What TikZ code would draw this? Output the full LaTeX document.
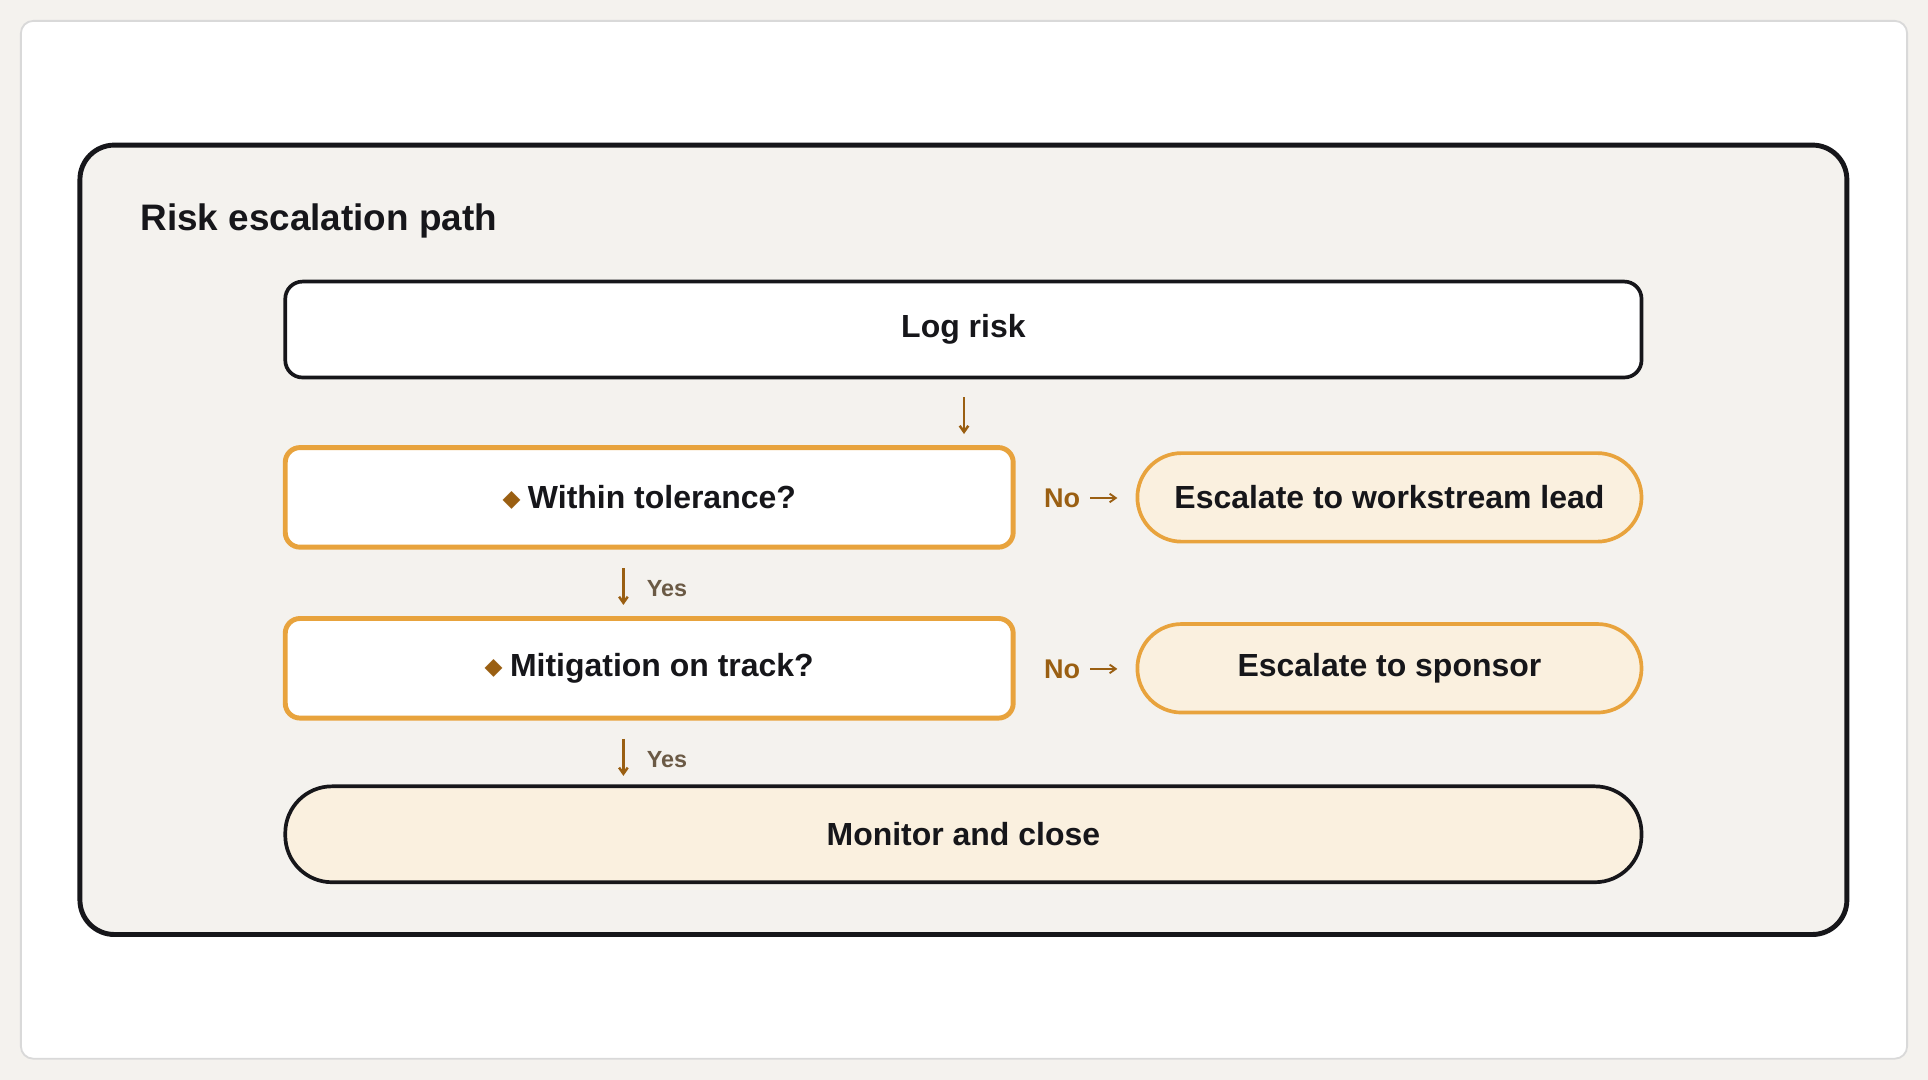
\documentclass[tikz,border=0pt]{standalone}
\usepackage{fontspec}
\setmainfont{Liberation Sans}
\newfontfamily\symfont{DejaVu Sans}
\usetikzlibrary{positioning,arrows.meta}
\definecolor{paper}{HTML}{F4F2EE}
\definecolor{cream}{HTML}{FAF0DF}
\definecolor{amber}{HTML}{E8A33D}
\definecolor{rust}{HTML}{9A5F12}
\definecolor{muted}{HTML}{6B5A45}
\definecolor{ink}{HTML}{16161A}
\begin{document}
\begin{tikzpicture}[x=1pt,y=-1pt,>={Straight Barb[length=5pt,width=7pt]},
        font=\bfseries\fontsize{26}{31}\selectfont]
        \tikzstyle{stage}=[rectangle,rounded corners=14pt,draw=ink,line width=3pt,fill=white,
            minimum width=1103pt,minimum height=78pt,text=ink]
        \tikzstyle{check}=[rectangle,rounded corners=12pt,draw=amber,line width=4pt,fill=white,
            minimum width=592pt,minimum height=81pt,text=ink]
        \tikzstyle{escalate}=[rectangle,rounded corners=36pt,draw=amber,line width=3pt,fill=cream,
            minimum width=410pt,minimum height=72pt,text=ink]
        \tikzstyle{flow}=[->,draw=rust,line width=2pt]
        \tikzstyle{tag}=[font=\bfseries\fontsize{19}{22}\selectfont,inner sep=0pt]
        \newcommand{\gem}{\raisebox{1.5pt}{\color{rust}\symfont\fontsize{19}{19}\selectfont ◆}\hspace{6pt}}

        \fill[paper] (0,0) rectangle (1568,878);
        \draw[fill=white,draw=black!15,line width=1.5pt,rounded corners=10pt] (17,17) rectangle (1551,861);
        \draw[fill=paper,draw=ink,line width=4pt,rounded corners=28pt] (65,118) rectangle (1502,760);
        \node[anchor=west,text=ink,inner sep=0pt,font=\bfseries\fontsize{30}{36}\selectfont] (title) at (114,180) {Risk escalation path};

        \node [stage] (log) at (783.5,268) {Log risk};
        \node [check] (tol) at (528,404.5) {\gem Within tolerance?};
        \node [escalate] (lead) at (1130,404.5) {Escalate to workstream lead};
        \node [check] (mit) at (528,543.5) {\gem Mitigation on track?};
        \node [escalate] (spon) at (1130,543.5) {Escalate to sponsor};
        \node [stage,rounded corners=38pt,fill=cream] (close) at (783.5,678.5) {Monitor and close};

        % short arrows between steps
        \coordinate (a1) at (784,323); \coordinate (a2) at (784,353);
        \draw[flow] (a1) -- (a2);
        \coordinate (y1) at (507,462); \coordinate (y2) at (507,492);
        \draw[flow] (y1) -- (y2) node[tag,text=muted,anchor=west,pos=0.55,xshift=18pt] (yes1) {Yes};
        \coordinate (y3) at (507,601); \coordinate (y4) at (507,631);
        \draw[flow] (y3) -- (y4) node[tag,text=muted,anchor=west,pos=0.55,xshift=18pt] (yes2) {Yes};
        \node[tag,text=rust,anchor=west,font=\bfseries\fontsize{22}{26}\selectfont] (no1) at (849,405) {No};
        \draw[flow,line width=1.5pt] (no1.east) ++(8pt,0) -- ++(22pt,0);
        \node[tag,text=rust,anchor=west,font=\bfseries\fontsize{22}{26}\selectfont] (no2) at (849,544) {No};
        \draw[flow,line width=1.5pt] (no2.east) ++(8pt,0) -- ++(22pt,0);
    \end{tikzpicture}
\end{document}
